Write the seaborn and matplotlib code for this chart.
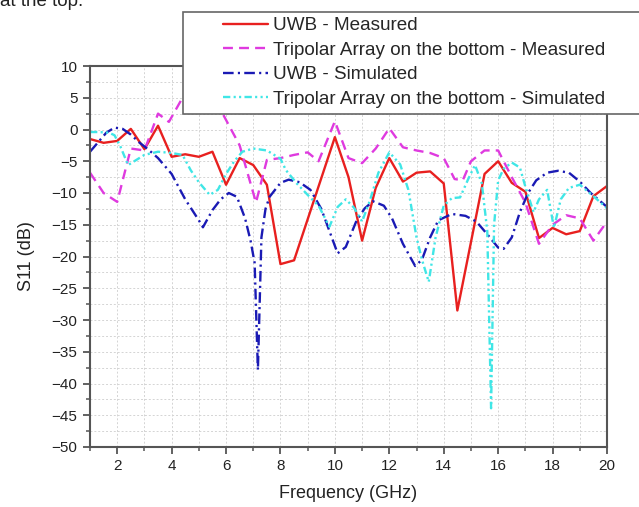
import numpy as np
import pandas as pd
import matplotlib
matplotlib.use("Agg")
import matplotlib.pyplot as plt
from matplotlib.patches import Rectangle
from matplotlib.ticker import MultipleLocator
import seaborn as sns

# ---- data ----
uwb_meas_f = [1.0, 1.5, 2.0, 2.5, 3.0, 3.5, 4.0, 4.5, 5.0, 5.5, 6.0, 6.5, 7.0, 7.5, 8.0, 8.5,
              10.0, 10.5, 11.0, 11.5, 12.0, 12.5, 13.0, 13.5, 14.0, 14.5, 15.5, 16.0, 16.5,
              17.0, 17.5, 18.0, 18.5, 19.0, 19.5, 20.0]
uwb_meas_s = [-1.5, -2.1, -1.8, 0.1, -3.1, 0.6, -4.3, -3.9, -4.3, -3.5, -8.7, -4.5, -5.6, -8.7,
              -21.2, -20.6, -1.2, -7.5, -17.5, -9.2, -4.5, -8.2, -6.8, -6.6, -8.5, -28.5, -7.0,
              -5.0, -8.4, -9.8, -17.1, -15.5, -16.5, -16.0, -10.5, -8.9]

tri_meas_f = [1.0, 1.5, 2.0, 2.5, 3.0, 3.5, 3.9, 4.4, 5.0, 5.5, 5.9, 6.5, 7.1, 7.5, 8.0, 8.5,
              9.0, 9.4, 10.0, 10.5, 11.0, 11.5, 12.0, 12.5, 13.0, 13.5, 14.0, 14.4, 14.7,
              15.0, 15.5, 16.0, 16.5, 17.0, 17.5, 18.0, 18.5, 19.0, 19.5, 20.0]
tri_meas_s = [-6.8, -10.0, -11.4, -3.0, -3.3, 2.5, 1.2, 5.0, 7.5, 6.5, 2.3, -2.5, -11.5, -4.8,
              -4.5, -4.0, -3.6, -5.0, 1.3, -4.5, -5.3, -3.0, 0.2, -2.8, -3.3, -3.7, -4.5,
              -7.8, -8.0, -5.0, -3.3, -3.3, -7.5, -11.5, -18.0, -15.0, -13.5, -14.0, -17.5,
              -14.5]

uwb_sim_f = [1.0, 1.3, 1.6, 1.9, 2.2, 2.5, 2.8, 3.1, 3.5, 4.0, 4.5, 5.0, 5.15, 5.5, 5.8, 6.1,
             6.4, 6.7, 6.9, 7.05, 7.17, 7.3, 7.45, 7.6, 8.0, 8.3, 8.7, 9.1, 9.5, 9.8, 10.1,
             10.4, 10.8, 11.1, 11.4, 11.8, 12.1, 12.5, 12.95, 13.2, 13.5, 13.8, 14.3, 14.8,
             15.2, 15.6, 16.0, 16.2, 16.5, 16.8, 17.1, 17.4, 17.8, 18.2, 18.6, 19.0, 19.4,
             19.7, 20.0]
uwb_sim_s = [-3.5, -2.0, -0.5, 0.3, 0.1, -0.8, -2.0, -3.0, -4.5, -7.0, -11.0, -14.3, -15.4,
             -12.7, -11.0, -10.0, -10.6, -14.0, -17.5, -21.0, -37.9, -17.0, -12.5, -10.6,
             -8.4, -7.9, -8.3, -9.5, -12.5, -16.0, -19.5, -18.5, -14.3, -12.4, -11.3, -12.0,
             -14.0, -18.0, -21.5, -20.5, -17.0, -14.3, -13.3, -13.6, -14.5, -16.5, -18.6,
             -18.8, -17.0, -13.0, -10.0, -8.0, -6.8, -6.5, -6.8, -8.2, -10.0, -11.1, -12.2]

tri_sim_f = [1.0, 1.3, 1.7, 1.9, 2.1, 2.4, 2.7, 3.0, 3.5, 4.0, 4.4, 4.7, 5.0, 5.4, 5.7, 6.0,
             6.3, 6.6, 7.0, 7.5, 8.0, 8.2, 8.6, 9.0, 9.4, 9.8, 10.1, 10.4, 10.7, 11.0, 11.3,
             11.6, 12.0, 12.4, 12.7, 13.0, 13.2, 13.45, 13.7, 14.0, 14.3, 14.6, 14.9, 15.15,
             15.4, 15.6, 15.74, 15.85, 16.0, 16.2, 16.5, 16.8, 17.0, 17.3, 17.5, 17.8, 18.05,
             18.3, 18.6, 19.0, 19.5, 20.0]
tri_sim_s = [-0.4, -0.4, -0.5, -0.9, -2.5, -5.6, -4.8, -4.0, -3.5, -3.7, -4.0, -6.4, -8.3,
             -10.3, -9.5, -7.0, -5.0, -3.5, -3.0, -3.3, -4.6, -6.4, -8.5, -10.3, -12.0, -15.3,
             -12.2, -11.0, -12.3, -14.5, -11.0, -6.8, -3.6, -5.5, -9.5, -17.0, -20.5, -24.0,
             -17.0, -12.0, -10.8, -10.7, -7.8, -5.6, -8.5, -16.0, -43.9, -15.0, -8.0, -6.2,
             -5.2, -6.0, -9.0, -13.0, -11.0, -9.5, -15.5, -11.0, -9.2, -8.7, -10.5, -12.4]

labels = ["UWB - Measured",
          "Tripolar Array on the bottom - Measured",
          "UWB - Simulated",
          "Tripolar Array on the bottom - Simulated"]
x_ticks = [2, 4, 6, 8, 10, 12, 14, 16, 18, 20]
y_ticks = [10, 5, 0, -5, -10, -15, -20, -25, -30, -35, -40, -45, -50]

# ---- style ----
sns.set_theme(style="ticks")
plt.rcParams["font.family"] = ["Liberation Sans", "DejaVu Sans"]

W, H = 639, 507
fig = plt.figure(figsize=(W / 100, H / 100), dpi=100)
ax = fig.add_axes([90 / W, 1 - 447 / H, 517 / W, 381 / H])

lw = 1.7
series = [
    (uwb_meas_f, uwb_meas_s, "#e8201f", "-"),
    (tri_meas_f, tri_meas_s, "#df3adf", (0, (4.2, 2.6))),
    (uwb_sim_f, uwb_sim_s, "#1a1ab4", (0, (4.5, 1.8, 0.9, 1.8))),
    (tri_sim_f, tri_sim_s, "#40e6e6", (0, (3.1, 1.4, 0.9, 1.4, 0.9, 1.4))),
]
handles = []
for (f, s, c, ls), lab in zip(series, labels):
    df = pd.DataFrame({"f": f, "s": s})
    sns.lineplot(data=df, x="f", y="s", ax=ax, color=c, linestyle=ls, linewidth=lw,
                 estimator=None, sort=False, legend=False)
    handles.append(ax.get_lines()[-1])

ax.set_xlim(1, 20)
ax.set_ylim(-50, 10)
ax.set_xticks(x_ticks)
ax.set_yticks(y_ticks)
ax.xaxis.set_minor_locator(MultipleLocator(1))
ax.yaxis.set_minor_locator(MultipleLocator(2.5))
ax.grid(which="both", color="#d4d4d4", linestyle=(0, (2, 2)), linewidth=0.7)
ax.set_axisbelow(True)
for sp in ax.spines.values():
    sp.set_color("#555555")
    sp.set_linewidth(1.5)
ax.tick_params(which="major", direction="out", length=5, width=1.3, color="#555555",
               labelsize=11, labelcolor="#222222", pad=4)
ax.tick_params(which="minor", direction="out", length=3, width=1.1, color="#555555")
ax.set_xlabel("Frequency (GHz)", fontsize=13, color="#222222", labelpad=8)
ax.set_ylabel("S11 (dB)", fontsize=13, color="#222222", labelpad=12)

# legend box (runs past the right edge, as in the reference)
fig.patches.append(Rectangle((183 / W, 1 - 114 / H), 520 / W, 102 / H,
                             transform=fig.transFigure, facecolor="white",
                             edgecolor="#666666", linewidth=1.2, zorder=3))
fig.legend(handles, labels, loc="upper left", bbox_to_anchor=(223 / W, 1 - 17 / H),
           bbox_transform=fig.transFigure, frameon=False, fontsize=13.6,
           borderpad=0, borderaxespad=0, handlelength=2.4, handletextpad=0.25,
           labelspacing=0.39).set_zorder(4)

fig.text(0.0, 1 - 6 / H, "at the top.", fontsize=13.5, va="baseline", color="#222222")

fig.savefig("out.png", dpi=100)
